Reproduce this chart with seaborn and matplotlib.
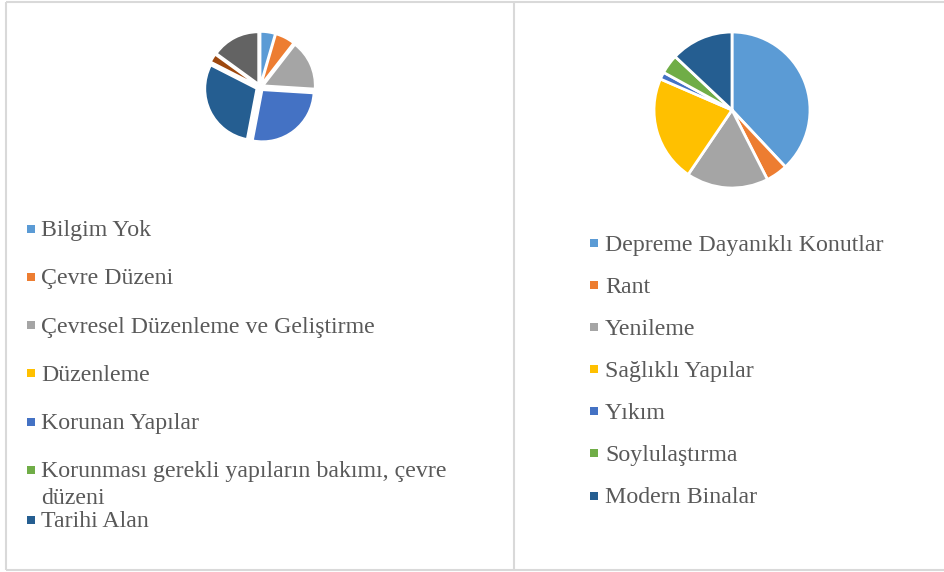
import matplotlib
matplotlib.use("Agg")
import matplotlib.pyplot as plt
import seaborn as sns

# verileri
left_labels = ["Bilgim Yok", "Çevre Düzeni", "Çevresel Düzenleme ve Geliştirme",
               "Düzenleme", "Korunan Yapılar",
               "Korunması gerekli yapıların bakımı, çevre\ndüzeni", "Tarihi Alan",
               "Diğer 1", "Diğer 2"]
left_values = [4.5, 6, 15.5, 0, 27, 0, 29.5, 2.5, 15]

right_labels = ["Depreme Dayanıklı Konutlar", "Rant", "Yenileme", "Sağlıklı Yapılar",
                "Yıkım", "Soylulaştırma", "Modern Binalar"]
right_values = [38, 4.5, 17, 22, 1.5, 4, 13]

office = ["#5B9BD5", "#ED7D31", "#A5A5A5", "#FFC000", "#4472C4",
          "#70AD47", "#255E91", "#9E480E", "#636363"]

sns.set_theme(style="white")
plt.rcParams['font.family'] = ['Liberation Serif', 'DejaVu Serif']

W, H = 944, 572
fig = plt.figure(figsize=(W / 100, H / 100), dpi=100)

# arka plan: piksel koordinatlari
bg = fig.add_axes([0, 0, 1, 1])
bg.set_xlim(0, W)
bg.set_ylim(H, 0)
bg.axis('off')

border = dict(color='#d9d9d9', linewidth=1.5, solid_capstyle='butt')
bg.plot([6, 6], [2, 570], **border)
bg.plot([6, W], [2, 2], **border)
bg.plot([6, W], [570, 570], **border)
bg.plot([514, 514], [2, 570], **border)


def pie_axes(cx, cy, r, pad=1.15):
    side = 2 * r * pad
    ax = fig.add_axes([(cx - side / 2) / W, 1 - (cy + side / 2) / H, side / W, side / H])
    return ax, pad


def fix_limits(ax, pad):
    # pie() kendi sinirlarini koyar, sonra duzelt
    ax.set_xlim(-pad, pad)
    ax.set_ylim(-pad, pad)
    ax.set_aspect('equal')
    ax.axis('off')


# sol pasta (ayrik dilimler)
ax1, p1 = pie_axes(260, 87, 51)
ax1.pie(left_values, colors=office, startangle=90, counterclock=False,
        explode=[0.08] * len(left_values),
        wedgeprops=dict(edgecolor='white', linewidth=1.2))
fix_limits(ax1, p1)

# sag pasta
ax2, p2 = pie_axes(732, 110, 78)
ax2.pie(right_values, colors=office[:len(right_values)], startangle=90,
        counterclock=False, wedgeprops=dict(edgecolor='white', linewidth=2))
fix_limits(ax2, p2)

text_color = '#595959'
fs = 17.2

# sol lejant (ilk 7 kalem gorunuyor)
for i, lab in enumerate(left_labels[:7]):
    base = 236 + i * 48.3
    if i == 6:
        base = 527
    bg.scatter([30.5], [base - 7.5], marker='s', s=28, color=office[i], linewidths=0)
    if '\n' in lab:
        first, second = lab.split('\n')
        bg.text(41, base, first, fontsize=fs, color=text_color, va='baseline', ha='left')
        bg.text(41, base + 27, second, fontsize=fs, color=text_color, va='baseline', ha='left')
    else:
        bg.text(41, base, lab, fontsize=fs, color=text_color, va='baseline', ha='left')

# sag lejant
for i, lab in enumerate(right_labels):
    base = 250.7 + i * 42.05
    bg.scatter([593.5], [base - 7.5], marker='s', s=28, color=office[i], linewidths=0)
    bg.text(605, base, lab, fontsize=fs, color=text_color, va='baseline', ha='left')

fig.savefig('out.png', dpi=100)
